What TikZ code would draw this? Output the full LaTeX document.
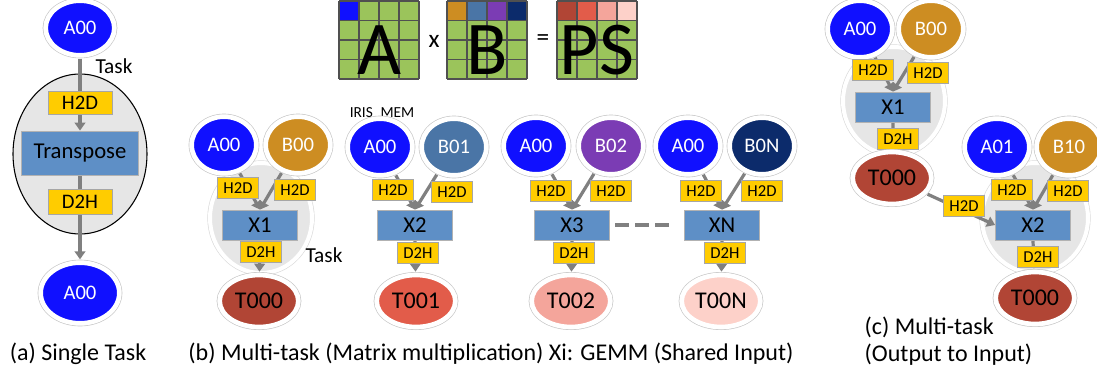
\documentclass[tikz,border=0pt]{standalone}
\usepackage{fontspec}
\setmainfont{Carlito}
\usetikzlibrary{shapes.geometric,arrows.meta}
\pgfdeclarelayer{back}
\pgfdeclarelayer{background}
\pgfsetlayers{back,background,main}

\definecolor{srcblue}{HTML}{1010FF}
\definecolor{borange}{HTML}{CD8D22}
\definecolor{bsteel}{HTML}{4A75A6}
\definecolor{bpurple}{HTML}{7B3CB4}
\definecolor{bnavy}{HTML}{0C2B6B}
\definecolor{tdark}{HTML}{B14535}
\definecolor{tred}{HTML}{E25C4A}
\definecolor{tpink}{HTML}{F4A59B}
\definecolor{tlight}{HTML}{FDD1C9}
\definecolor{xferyellow}{HTML}{FFCC00}
\definecolor{kernelblue}{HTML}{5E8FC6}
\definecolor{taskgray}{HTML}{E6E6E6}
\definecolor{cellgreen}{HTML}{9BC45B}
\definecolor{arrowgray}{HTML}{808080}
\definecolor{gridgray}{HTML}{505050}

\tikzset{
  buf/.style={ellipse, inner sep=0pt, outer sep=2.5pt,
    preaction={draw=black!22, line width=4.5pt},
    draw=white, line width=3.5pt, text=white,
    font=\fontsize{15.5}{15.5}\selectfont},
  srcnode/.style={buf, minimum width=48.5pt, minimum height=42.5pt},
  outnode/.style={buf, minimum width=59pt, minimum height=39pt, text=black,
    font=\fontsize{18}{18}\selectfont},
  xfer/.style={rectangle, fill=xferyellow, draw=black!35, line width=0.6pt,
    inner sep=0pt, minimum width=30.75pt, minimum height=15.75pt,
    font=\fontsize{12.5}{12.5}\selectfont},
  kernel/.style={rectangle, fill=kernelblue, draw=black!30, line width=0.6pt,
    inner sep=0pt, minimum width=56.25pt, minimum height=22.5pt,
    font=\fontsize{17}{17}\selectfont},
  taskbg/.style={ellipse, fill=taskgray, inner sep=0pt,
    preaction={draw=black!14, line width=4pt}, draw=white, line width=3pt},
  flow/.style={draw=arrowgray, line width=2.4pt,
    -{Triangle[length=6pt,width=8pt]}},
  gridline/.style={draw=gridgray, line width=0.8pt},
  caption/.style={font=\fontsize{18}{20}\selectfont},
  tasklabel/.style={font=\fontsize{16}{16}\selectfont},
  bigletter/.style={font=\fontsize{57}{57}\selectfont, anchor=base, inner sep=0pt},
  opsign/.style={font=\fontsize{19}{19}\selectfont}
}

\begin{document}
\begin{tikzpicture}[x=0.75pt, y=-0.75pt]
\useasboundingbox (0,0) rectangle (1097,372);

% ---------- matrices A x B = PS ----------
\foreach \mx/\ca/\cb/\cc/\cd in {339/srcblue/cellgreen/cellgreen/cellgreen,
    447/borange/bsteel/bpurple/bnavy, 557/tdark/tred/tpink/tlight}{
  \fill[cellgreen] (\mx,1) rectangle ++(80,78);
  \foreach \c [count=\i from 0] in {\ca,\cb,\cc,\cd}
    \fill[\c] (\mx+20*\i,1) rectangle ++(20,19.5);
  \foreach \k in {0,...,4}{
    \draw[gridline] (\mx+20*\k,1) -- ++(0,78);
    \draw[gridline] (\mx,1+19.5*\k) -- ++(80,0);
  }
}
\node[bigletter] (mA) at (379,74) {A};
\node[bigletter] (mB) at (487,74) {B};
\node[bigletter] (mPS) at (597,74) {PS};
\node[opsign] (times) at (434,41) {x};
\node[opsign] (equals) at (543,40) {=};

% ---------- (a) single task ----------
\node[srcnode, fill=srcblue, minimum width=51.5pt, minimum height=41pt] (a-in) at (80,28) {A00};
\node[tasklabel] (a-task) at (114,66) {Task};
\node[xfer, minimum width=48pt, minimum height=17.25pt,
      font=\fontsize{15.5}{15.5}\selectfont] (a-h2d) at (80,103) {H2D};
\node[kernel, minimum width=87.75pt, minimum height=33pt] (a-k) at (80,153) {Transpose};
\node[xfer, minimum width=48pt, minimum height=18.75pt,
      font=\fontsize{15.5}{15.5}\selectfont] (a-d2h) at (80,202) {D2H};
\node[srcnode, fill=srcblue, minimum width=59pt, minimum height=45.5pt] (a-out) at (80,293) {A00};
\begin{pgfonlayer}{back}
  \node[ellipse, fill=taskgray, draw=black, line width=0.8pt, inner sep=0pt,
        minimum width=100.5pt, minimum height=120pt] (a-box) at (80,154) {};
\end{pgfonlayer}
\begin{pgfonlayer}{background}
  \draw[flow] (a-in) -- (a-k.north);
  \draw[flow] (a-k.south) -- (a-out);
\end{pgfonlayer}
\node[caption] (a-cap) at (78,354) {(a) Single Task};

% ---------- (b) multi-task, shared input ----------
% task 1
\node[srcnode, fill=srcblue] (b1-a) at (224,145) {A00};
\node[srcnode, fill=borange] (b1-b) at (298,145) {B00};
\node[xfer] (b1-ha) at (238,188) {H2D};
\node[xfer] (b1-hb) at (295,190) {H2D};
\node[kernel] (b1-x) at (260,225) {X1};
\node[xfer] (b1-d) at (261,252) {D2H};
\node[outnode, fill=tdark] (b1-t) at (259,301) {T000};
\node[tasklabel] (b1-task) at (324,255) {Task};
% task 2
\node[font=\fontsize{11.5}{11.5}\selectfont] (iris) at (382,114) {IRIS\textunderscore MEM};
\node[srcnode, fill=srcblue] (b2-a) at (380,147) {A00};
\node[srcnode, fill=bsteel] (b2-b) at (454,147) {B01};
\node[xfer] (b2-ha) at (393,190) {H2D};
\node[xfer] (b2-hb) at (452,192) {H2D};
\node[kernel] (b2-x) at (415,225) {X2};
\node[xfer] (b2-d) at (418,253) {D2H};
\node[outnode, fill=tred] (b2-t) at (416,301) {T001};
% task 3
\node[srcnode, fill=srcblue] (b3-a) at (536,146) {A00};
\node[srcnode, fill=bpurple] (b3-b) at (611,146) {B02};
\node[xfer] (b3-ha) at (551,191) {H2D};
\node[xfer] (b3-hb) at (611,191) {H2D};
\node[kernel] (b3-x) at (572,225) {X3};
\node[xfer] (b3-d) at (574,253) {D2H};
\node[outnode, fill=tpink] (b3-t) at (571,301) {T002};
% task N
\node[srcnode, fill=srcblue] (b4-a) at (688,146) {A00};
\node[srcnode, fill=bnavy] (b4-b) at (762,146) {B0N};
\node[xfer] (b4-ha) at (701,191) {H2D};
\node[xfer] (b4-hb) at (762,191) {H2D};
\node[kernel] (b4-x) at (722,225) {XN};
\node[xfer] (b4-d) at (725,253) {D2H};
\node[outnode, fill=tlight] (b4-t) at (721,301) {T00N};

\begin{pgfonlayer}{back}
  \node[taskbg, minimum width=76.5pt, minimum height=82.5pt] (b1-bg) at (261,218) {};
\end{pgfonlayer}
\begin{pgfonlayer}{background}
  \foreach \g in {b1,b2,b3,b4}{
    \draw[flow] (\g-a) -- (\g-x.north);
    \draw[flow] (\g-b) -- (\g-x.north);
    \draw[flow] (\g-x.south) -- (\g-t);
  }
  \draw[draw=arrowgray, line width=2.6pt, dash pattern=on 10pt off 5pt,
        shorten <=4pt, shorten >=7pt] (b3-x.east) -- (b4-x.west);
\end{pgfonlayer}
\node[caption] (b-cap) at (491,354) {(b) Multi-task (Matrix multiplication) Xi: GEMM (Shared Input)};

% ---------- (c) multi-task, output to input ----------
\node[srcnode, fill=srcblue] (c1-a) at (860,29) {A00};
\node[srcnode, fill=borange] (c1-b) at (931,29) {B00};
\node[xfer] (c1-ha) at (873,70) {H2D};
\node[xfer] (c1-hb) at (928,73) {H2D};
\node[kernel] (c1-x) at (893,107) {X1};
\node[xfer] (c1-d) at (898,139) {D2H};
\node[outnode, fill=tdark] (c1-t) at (892,178) {T000};

\node[srcnode, fill=srcblue] (c2-a) at (997,147) {A01};
\node[srcnode, fill=borange] (c2-b) at (1069,147) {B10};
\node[xfer] (c2-ha) at (1012,190) {H2D};
\node[xfer] (c2-hb) at (1068,191) {H2D};
\node[xfer] (c2-hl) at (964,206) {H2D};
\node[kernel] (c2-x) at (1033,225) {X2};
\node[xfer] (c2-d) at (1038,257) {D2H};
\node[outnode, fill=tdark] (c2-t) at (1035,298) {T000};

\begin{pgfonlayer}{back}
  \node[taskbg, minimum width=76.5pt, minimum height=81pt] (c1-bg) at (894,101) {};
  \node[taskbg, minimum width=79.5pt, minimum height=82.5pt] (c2-bg) at (1035,218) {};
\end{pgfonlayer}
\begin{pgfonlayer}{background}
  \foreach \g in {c1,c2}{
    \draw[flow] (\g-a) -- (\g-x.north);
    \draw[flow] (\g-b) -- (\g-x.north);
    \draw[flow] (\g-x.south) -- (\g-t);
  }
  \draw[flow] (c1-t) -- (c2-x.west);
\end{pgfonlayer}
\node[caption, align=left, anchor=west] (c-cap) at (860,341) {(c) Multi-task\\(Output to Input)};

\end{tikzpicture}
\end{document}
